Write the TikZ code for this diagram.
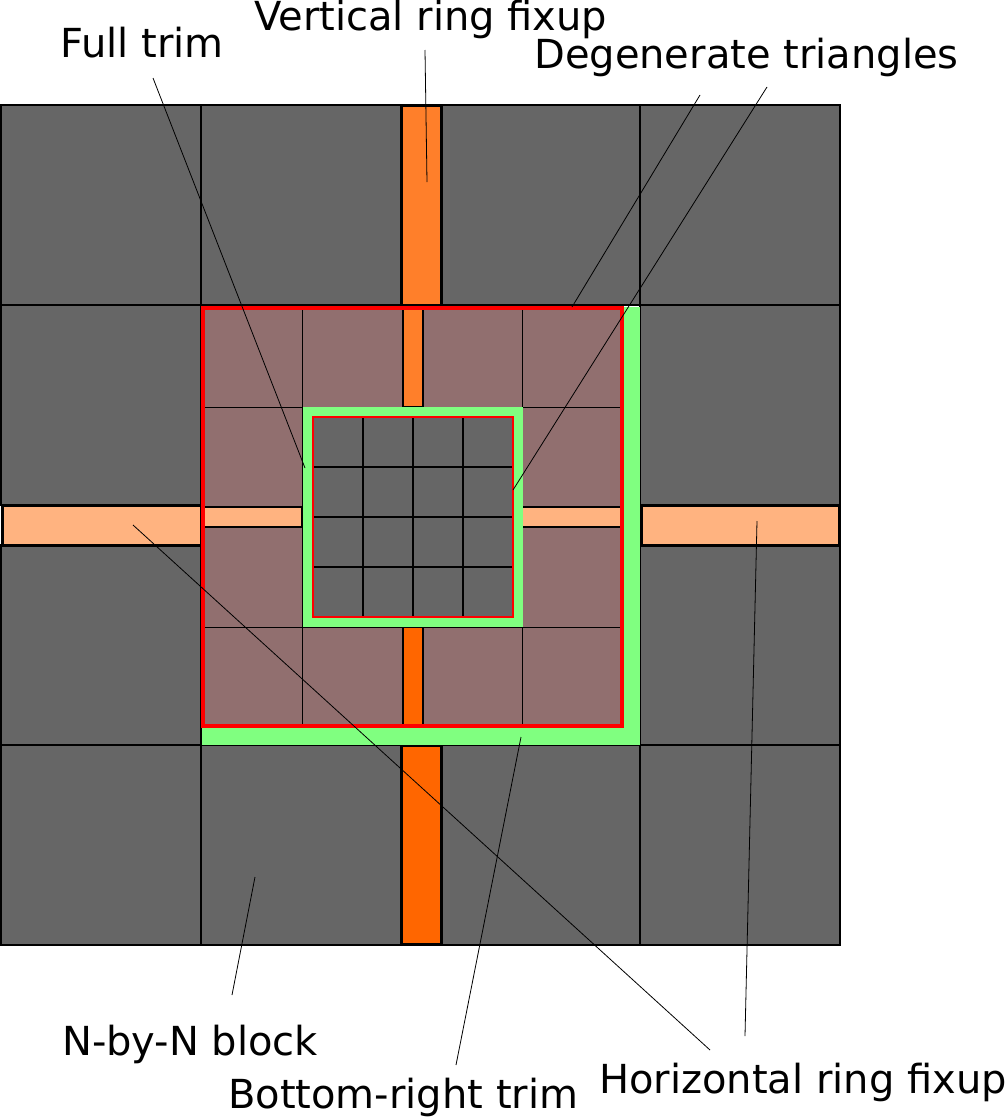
\documentclass[tikz,border=0pt]{standalone}
\usepackage{fontspec}
\setmainfont{DejaVu Sans}
\definecolor{blk}{HTML}{666666}
\definecolor{midfill}{HTML}{916F6F}
\definecolor{vtop}{HTML}{FF7F2A}
\definecolor{vbot}{HTML}{FF6600}
\definecolor{hfix}{HTML}{FFB380}
\definecolor{trimg}{HTML}{80FF80}
\tikzset{
  outerblk/.style={fill=blk,draw=black,line width=2pt},
  fixbox/.style={draw=black,line width=3pt},
  midline/.style={draw=black,line width=1pt},
  innerblk/.style={fill=blk,draw=black,line width=2pt},
  leader/.style={draw=black,line width=0.8pt},
  lbl/.style={anchor=base west,inner sep=0pt,font=\fontsize{40}{48}\selectfont}
}
\begin{document}
\begin{tikzpicture}[x=1pt,y=-1pt]
\useasboundingbox (0,0) rectangle (1006,1117);
% outer blocks
\foreach \x/\y in {1/105,1/305,1/545,1/745,201/105,441/105,201/745,441/745,640/105,640/305,640/545,640/745}{
  \path[outerblk] (\x,\y) rectangle ++(200,200);
}
% outer fixups
\path[fixbox,fill=vtop] (401,105) rectangle (441,305);
\path[fixbox,fill=vbot] (401,745) rectangle (441,944);
\path[fixbox,fill=hfix] (2,505) rectangle (201,545);
\path[fixbox,fill=hfix] (641,505) rectangle (839,545);
% bottom-right trim (green L)
\fill[trimg] (202,307) rectangle (640,745);
% mid region
\fill[midfill] (202,307) rectangle (622,727);
\foreach \v in {302,522}{ \path[midline] (\v,307) -- (\v,727); }
\foreach \v in {407,627}{ \path[midline] (202,\v) -- (622,\v); }
\path[midline] (402,307) -- (402,727);
\path[midline] (422,307) -- (422,727);
\path[midline] (202,507) -- (622,507);
\path[midline] (202,527) -- (622,527);
\path[fixbox,line width=1.5pt,fill=vtop] (403,307) rectangle (423,407);
\path[fixbox,line width=1.5pt,fill=vbot] (403,627) rectangle (423,727);
\path[fixbox,line width=1.5pt,fill=hfix] (202,507) rectangle (302,527);
\path[fixbox,line width=1.5pt,fill=hfix] (522,507) rectangle (622,527);
% full trim (green ring) and inner grid
\fill[trimg] (303,407) rectangle (523,627);
\foreach \i in {0,1,2,3}{
  \foreach \j in {0,1,2,3}{
    \path[innerblk] (313+50*\i,417+50*\j) rectangle ++(50,50);
  }
}
\draw[red,line width=2.5pt] (313,417) rectangle (513,617);
% red full region border
\draw[red,line width=4pt] (202.5,308) rectangle (621.5,726);
% labels
\node[lbl] (fulltrim) at (60,57) {Full trim};
\node[lbl] (vfix) at (254,30) {Vertical ring fixup};
\node[lbl] (degen) at (534,68) {Degenerate triangles};
\node[lbl] (nbyn) at (62,1055) {N-by-N block};
\node[lbl] (brtrim) at (228,1108) {Bottom-right trim};
\node[lbl] (hfixl) at (599,1093) {Horizontal ring fixup};
% leader end points
\coordinate (ft1) at (153,78);   \coordinate (ft2) at (305,468);
\coordinate (vf1) at (425,50);   \coordinate (vf2) at (427,182);
\coordinate (dg1) at (700,95);   \coordinate (dg2) at (572,307);
\coordinate (dg3) at (767,87);   \coordinate (dg4) at (513,490);
\coordinate (nb1) at (232,995);  \coordinate (nb2) at (255,877);
\coordinate (br1) at (456,1065); \coordinate (br2) at (521,737);
\coordinate (hf1) at (710,1050); \coordinate (hf2) at (133,525);
\coordinate (hf3) at (745,1036); \coordinate (hf4) at (757,521);
\path[leader] (ft1) -- (ft2);
\path[leader] (vf1) -- (vf2);
\path[leader] (dg1) -- (dg2);
\path[leader] (dg3) -- (dg4);
\path[leader] (nb1) -- (nb2);
\path[leader] (br1) -- (br2);
\path[leader] (hf1) -- (hf2);
\path[leader] (hf3) -- (hf4);
\end{tikzpicture}
\end{document}
